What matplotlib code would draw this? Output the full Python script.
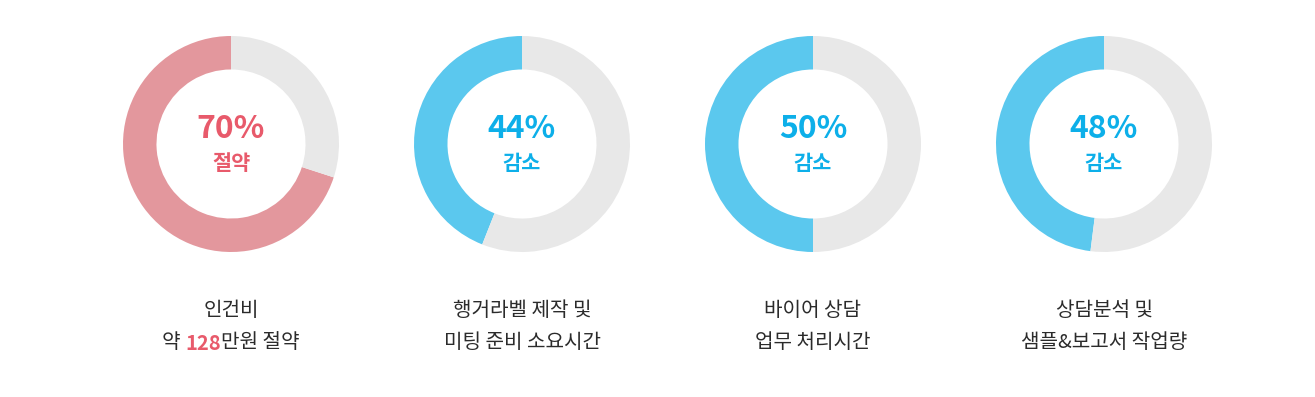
import matplotlib
matplotlib.use('Agg')
import matplotlib.pyplot as plt

plt.rcParams['font.family'] = ['Noto Sans CJK KR', 'DejaVu Sans']

values = [70, 44, 50, 48]
big_labels = ['70%', '44%', '50%', '48%']
small_labels = ['절약', '감소', '감소', '감소']
line1 = ['인건비', '행거라벨 제작 및', '바이어 상담', '상담분석 및']
line2 = ['약 128만원 절약', '미팅 준비 소요시간', '업무 처리시간', '샘플&보고서 작업량']
arc_colors = ['#e3979d', '#5bc8ee', '#5bc8ee', '#5bc8ee']
text_colors = ['#e85a6b', '#0dafe9', '#0dafe9', '#0dafe9']
grey = '#e8e8e8'

W, H = 1315, 397
fig = plt.figure(figsize=(W / 100, H / 100), dpi=100)
fig.patch.set_facecolor('white')

centers_x = [231, 522, 813, 1104]
cy = 144
R = 108
label_size = 14.5

for i in range(4):
    cx = centers_x[i]
    ax = fig.add_axes([(cx - R) / W, 1 - (cy + R) / H, 2 * R / W, 2 * R / H])
    ax.pie([values[i], 100 - values[i]], colors=[arc_colors[i], grey],
           startangle=90, counterclock=True,
           wedgeprops=dict(width=0.31, linewidth=0))
    ax.set_xlim(-1, 1)
    ax.set_ylim(-1, 1)
    ax.axis('off')

    fig.text(cx / W, 1 - 129 / H, big_labels[i], ha='center', va='center',
             fontsize=23, fontweight='bold', color=text_colors[i])
    fig.text(cx / W, 1 - 163 / H, small_labels[i], ha='center', va='center',
             fontsize=15, fontweight='bold', color=text_colors[i])
    fig.text(cx / W, 1 - 310 / H, line1[i], ha='center', va='center',
             fontsize=label_size, color='#2b2b2b')
    if i > 0:
        fig.text(cx / W, 1 - 343 / H, line2[i], ha='center', va='center',
                 fontsize=label_size, color='#2b2b2b')

# first label's second line has a red number in the middle
parts = ['약 ', '128', '만원 절약']
part_colors = ['#2b2b2b', '#e85a6b', '#2b2b2b']
part_weights = ['normal', 'bold', 'normal']
renderer = fig.canvas.get_renderer()
texts = []
widths = []
for p, c, w in zip(parts, part_colors, part_weights):
    t = fig.text(0, 1 - 343 / H, p, ha='left', va='center', fontsize=label_size,
                 color=c, fontweight=w)
    widths.append(t.get_window_extent(renderer).width)
    texts.append(t)
x = centers_x[0] - sum(widths) / 2
for t, w in zip(texts, widths):
    t.set_x(x / W)
    x += w

fig.savefig('out.png', dpi=100, facecolor='white')
